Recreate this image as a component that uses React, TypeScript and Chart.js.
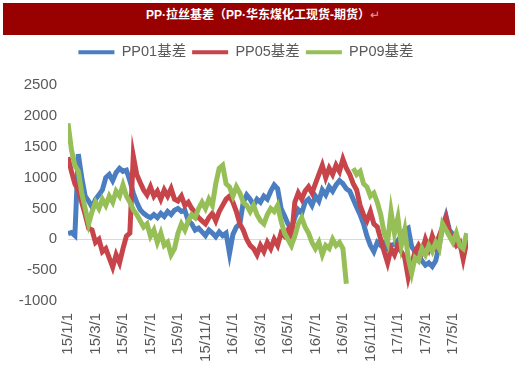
import React, { useEffect, useRef } from 'react';
import { Chart, registerables } from 'chart.js';

Chart.register(...registerables);

// Tick labels (every two months) and their positions, in months since 2015-01-01
const tickLabels = ['15/1/1', '15/3/1', '15/5/1', '15/7/1', '15/9/1', '15/11/1', '16/1/1', '16/3/1', '16/5/1', '16/7/1', '16/9/1', '16/11/1', '17/1/1', '17/3/1', '17/5/1'];
const tickMonths = [0, 2, 4, 6, 8, 10, 12, 14, 16, 18, 20, 22, 24, 26, 28];

// Samples every quarter month, starting 2015-01-01
const STEP = 0.25;

const pp01 = [
  90, 110, 60, 1380, 1000, 700, 620, 520, 650, 720,
  800, 1000, 1050, 950, 1080, 1150, 1100, 1120, 950, 750,
  600, 480, 420, 380, 350, 400, 350, 420, 370, 450,
  400, 470, 500, 450, 470, 300, 250, 150, 180, 120,
  60, 150, 100, 40, 120, 60, 100, -230, 80, 200,
  250, 600, 720, 650, 550, 650, 600, 700, 650, 780,
  880, 820, 500, 380, 250, 170, 350, 480, 420, 600,
  650, 550, 700, 620, 800, 720, 850, 780, 880, 950,
  900, 820, 780, 650, 520, 400, 250, 50, -100, -200,
  -50, -100, -50, -150, -100, -80, -20, 60, 150, 180,
  -120, -200, -250, -350, -420, -380, -440, -350, -100, 200,
  380, 150, 80, -50, -100, -200, 0,
];

const pp05 = [
  1330, 1100, 900, 800, 600, 400, 180, 150, -50, 0,
  -200, -150, -300, -450, -250, -380, -150, 50, 100, 1350,
  1050, 920, 800, 720, 850, 700, 780, 650, 800, 700,
  820, 650, 620, 700, 550, 600, 500, 430, 350, 300,
  250, 350, 420, 300, 450, 550, 650, 700, 600, 450,
  250, 150, 0, -100, -150, -250, -100, -200, -50, -150,
  0, -100, 100, 50, 150, 0, 600, 750, 650, 780,
  850, 750, 900, 1050, 1200, 1000, 1150, 1050, 1200, 1100,
  1300, 1150, 1050, 900, 800, 550, 400, 300, 450, 250,
  200, 0, -200, -380, -150, -250, -100, -200, -300, -620,
  -400, -200, -100, -200, 0, -150, 50, -100, 50, 200,
  350, 100, 0, -100, -50, -320, -50,
];

const pp09 = [
  1880, 1450, 1200, 1100, 750, 500, 250, 450, 600, 500,
  650, 550, 700, 600, 780, 700, 880, 700, 600, 480,
  400, 300, 200, 250, 50, 150, -50, 100, -100, -50,
  -250, -150, 100, 250, 150, 300, 400, 350, 500, 600,
  500, 650, 550, 900, 1150, 1200, 900, 850, 700, 850,
  750, 600, 550, 450, 550, 400, 300, 250, 400, 500,
  450, 550, 300, 100, 0, -100, 50, 250, 350, 200,
  100, -50, -150, -50, -250, -100, -150, 0, -100, -50,
  -150, -720, null, 1150, 1050, 1100, 900, 850, 700, 750,
  600, 400, 100, -50, 450, 100, 350, -100, 150, -300,
  -550, -300, -350, -150, -250, -100, -200, -50, -150, 250,
  150, 50, -50, 100, -100, -150, 100,
];

const BLUE = '#4A7EC0';
const RED = '#C6444A';
const GREEN = '#97BF57';

const FONT = '"Liberation Sans", "Noto Sans CJK SC", Arial, sans-serif';

export default function App() {
  const ref = useRef<HTMLCanvasElement>(null);

  useEffect(() => {
    const canvas = ref.current;
    if (!canvas) return;
    const mk = (arr: (number | null)[]) => arr.map((v, i) => ({ x: i * STEP, y: v }));
    const ds = (label: string, arr: (number | null)[], color: string, order: number) => ({
      label,
      data: mk(arr),
      borderColor: color,
      backgroundColor: color,
      borderWidth: 5,
      pointRadius: 0,
      tension: 0,
      spanGaps: false,
      order,
      yAxisID: 'y',
    });
    const chart = new Chart(canvas, {
      type: 'line',
      data: {
        datasets: [
          ds('PP01基差', pp01, BLUE, 3),
          ds('PP05基差', pp05, RED, 2),
          ds('PP09基差', pp09, GREEN, 1),
        ] as any,
      },
      options: {
        responsive: false,
        animation: false,
        devicePixelRatio: 1,
        layout: { padding: { top: 39, left: 0, right: 28, bottom: 0 } },
        plugins: {
          tooltip: { enabled: false },
          title: { display: false },
          legend: {
            display: true,
            position: 'top',
            labels: {
              boxWidth: 36,
              boxHeight: 4,
              padding: 6,
              color: '#595959',
              font: { family: FONT, size: 14.5 },
              sort: (a: any, b: any) => a.datasetIndex - b.datasetIndex,
              generateLabels: (c: any) =>
                (Chart.defaults.plugins.legend.labels.generateLabels as any)(c).map((l: any) => ({
                  ...l,
                  lineWidth: 0,
                  fillStyle: l.strokeStyle,
                })),
            },
          },
          subtitle: {
            display: true,
            text: '',
            position: 'top',
            weight: 500,
            font: { size: 1 },
            padding: { top: 14.3, bottom: 0 },
          } as any,
        },
        scales: {
          x: {
            type: 'linear',
            min: 0,
            max: 29.1,
            grid: { display: false, drawTicks: false },
            border: { display: false },
            afterBuildTicks: (s: any) => {
              s.ticks = tickMonths.map((v) => ({ value: v }));
            },
            afterFit: (s: any) => {
              s.height = 64;
            },
            ticks: {
              autoSkip: false,
              maxRotation: 90,
              minRotation: 90,
              padding: 12,
              color: '#595959',
              font: { family: FONT, size: 15 },
              callback: (_v: any, i: number) => tickLabels[i],
            },
          },
          y: {
            position: 'left',
            min: -1000,
            max: 2500,
            afterFit: (s: any) => {
              s.width = 68;
            },
            grid: {
              drawTicks: false,
              lineWidth: 1,
              color: (ctx: any) => (ctx.tick && ctx.tick.value === 0 ? '#D9D9D9' : 'rgba(0,0,0,0)'),
            },
            border: { display: false },
            ticks: {
              stepSize: 500,
              padding: 11,
              color: '#595959',
              font: { family: FONT, size: 15 },
              callback: (v: any) => String(v),
            },
          },
          yRight: {
            type: 'linear',
            position: 'right',
            display: true,
            grid: { display: false, drawTicks: false },
            border: { display: false },
            ticks: { display: false },
            afterFit: (s: any) => {
              s.width = 24;
            },
          },
        },
      } as any,
    });
    return () => chart.destroy();
  }, []);

  return (
    <div style={{ position: 'fixed', left: 0, top: 0, width: 520, height: 365, background: '#fff', overflow: 'hidden' }}>
      <canvas ref={ref} width={520} height={365} style={{ position: 'absolute', left: 0, top: 0, width: 520, height: 365 }} />
      <div
        style={{
          position: 'absolute',
          left: 3,
          top: 3,
          width: 512,
          height: 32,
          boxSizing: 'border-box',
          paddingLeft: 8,
          background: '#990000',
          color: '#fff',
          fontFamily: '"Liberation Sans", "Noto Sans CJK SC", sans-serif',
          fontWeight: 700,
          fontSize: 12,
          lineHeight: '25px',
          textAlign: 'center',
          whiteSpace: 'nowrap',
        }}
      >
        PP·拉丝基差（PP·华东煤化工现货-期货）<span style={{ color: '#d9a0a0', fontWeight: 400 }}>↵</span>
      </div>
    </div>
  );
}
